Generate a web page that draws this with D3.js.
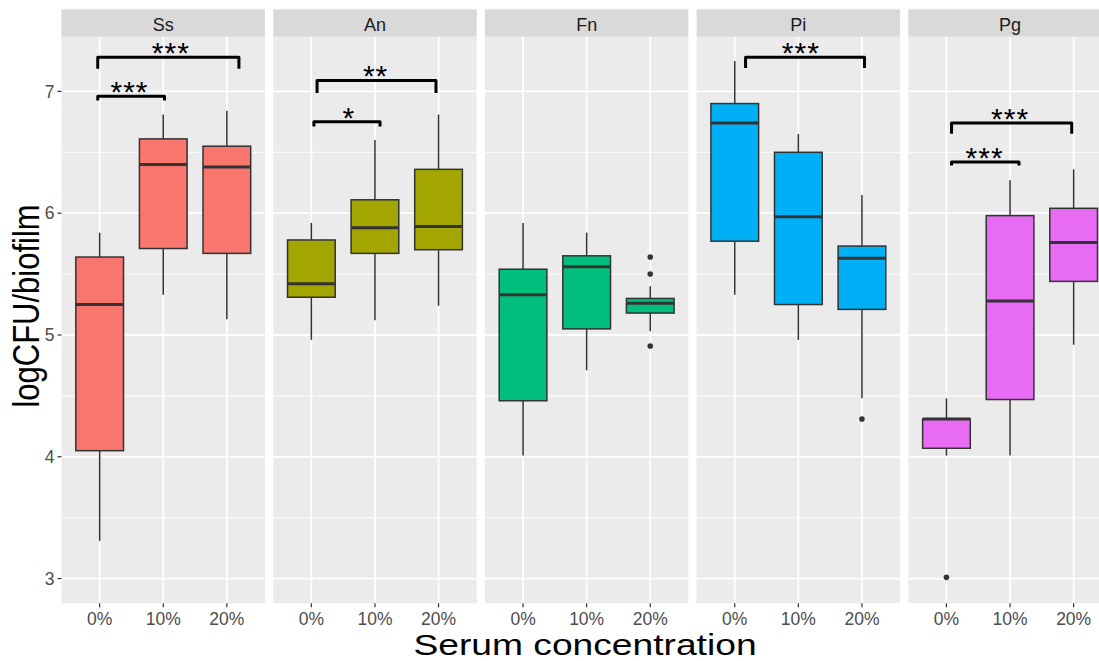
<!DOCTYPE html>
<html>
<head>
<meta charset="utf-8">
<script src="https://cdn.jsdelivr.net/npm/d3@7"></script>
<style>
  html, body { margin: 0; padding: 0; background: #fff; }
  svg { display: block; font-family: "Liberation Sans", Arial, sans-serif; }
</style>
</head>
<body>
<svg id="chart" width="1099" height="661"></svg>
<script>
// Bacterial species (facets) and serum concentrations (x categories)
const species = ["Ss", "An", "Fn", "Pi", "Pg"];
const concentrations = ["0%", "10%", "20%"];
const speciesColors = ["#F8766D", "#A3A500", "#00BF7D", "#00B0F6", "#E76BF3"];

// Box-plot statistics, one row per species, one entry per concentration
const lowerWhisker = [
  [3.31, 5.33, 5.13],
  [4.96, 5.12, 5.24],
  [4.01, 4.71, 5.03],
  [5.33, 4.96, 4.48],
  [4.01, 4.01, 4.92]
];
const q1 = [
  [4.05, 5.71, 5.67],
  [5.31, 5.67, 5.70],
  [4.46, 5.05, 5.18],
  [5.77, 5.25, 5.21],
  [4.07, 4.47, 5.44]
];
const median = [
  [5.25, 6.40, 6.38],
  [5.42, 5.88, 5.89],
  [5.33, 5.56, 5.26],
  [6.74, 5.97, 5.63],
  [4.31, 5.28, 5.76]
];
const q3 = [
  [5.64, 6.61, 6.55],
  [5.78, 6.11, 6.36],
  [5.54, 5.65, 5.30],
  [6.90, 6.50, 5.73],
  [4.31, 5.98, 6.04]
];
const upperWhisker = [
  [5.84, 6.81, 6.84],
  [5.92, 6.60, 6.81],
  [5.92, 5.84, 5.40],
  [7.25, 6.65, 6.15],
  [4.48, 6.27, 6.36]
];
const outliers = [
  [[], [], []],
  [[], [], []],
  [[], [], [5.64, 5.50, 4.91]],
  [[], [], [4.31]],
  [[3.01], [], []]
];

// Significance brackets (positions in category index units, 0 = "0%")
const bracketSpecies = ["Ss", "Ss", "An", "An", "Pi", "Pg", "Pg"];
const bracketFrom    = [-0.03, -0.03, 0.04, 0.09, 0.17, 0.08, 0.08];
const bracketTo      = [1.02, 2.19, 1.08, 1.96, 2.04, 1.14, 1.97];
const bracketLevel   = [6.96, 7.28, 6.75, 7.09, 7.28, 6.42, 6.74];
const bracketTipEnd  = [6.925, 7.185, 6.712, 6.987, 7.192, 6.392, 6.652];
const bracketLabel   = ["***", "***", "*", "**", "***", "***", "***"];
const bracketLabelAt = [0.47, 1.12, 0.59, 1.01, 1.04, 0.60, 1.00];

const yTicks = [3, 4, 5, 6, 7];
const yMinor = [3.5, 4.5, 5.5, 6.5];

// Layout
const svg = d3.select("#chart");
const panelLeft0 = 61.5, panelStep = 211.7, panelW = 203.5;
const stripTop = 9.3, panelTop = 36.7, panelBottom = 603.3;

const y = d3.scaleLinear().domain([2.797, 7.449]).range([panelBottom, panelTop]);
const x = d3.scalePoint().domain(concentrations).range([0, panelW]).padding(0.6);
const xIdx = d3.scaleLinear().domain([0, 1]).range([x("0%"), x("10%")]);
const boxW = x.step() * 0.75;

svg.append("rect").attr("width", 1099).attr("height", 661).attr("fill", "#ffffff");

species.forEach((sp, i) => {
  const g = svg.append("g").attr("transform", `translate(${panelLeft0 + i * panelStep},0)`);

  // panel background and grid
  g.append("rect").attr("x", 0).attr("y", panelTop)
    .attr("width", panelW).attr("height", panelBottom - panelTop).attr("fill", "#EBEBEB");
  g.selectAll(".minor").data(yMinor).join("line")
    .attr("x1", 0).attr("x2", panelW).attr("y1", d => y(d)).attr("y2", d => y(d))
    .attr("stroke", "#ffffff").attr("stroke-width", 0.9);
  g.selectAll(".major").data(yTicks).join("line")
    .attr("x1", 0).attr("x2", panelW).attr("y1", d => y(d)).attr("y2", d => y(d))
    .attr("stroke", "#ffffff").attr("stroke-width", 1.8);
  g.selectAll(".vmajor").data(concentrations).join("line")
    .attr("x1", d => x(d)).attr("x2", d => x(d)).attr("y1", panelTop).attr("y2", panelBottom)
    .attr("stroke", "#ffffff").attr("stroke-width", 1.8);

  // strip
  g.append("rect").attr("x", 0).attr("y", stripTop)
    .attr("width", panelW).attr("height", panelTop - stripTop).attr("fill", "#D9D9D9");
  g.append("text").attr("x", panelW / 2).attr("y", 30.5)
    .attr("text-anchor", "middle").attr("font-size", 18).attr("fill", "#1A1A1A").text(sp);

  // boxes
  concentrations.forEach((c, k) => {
    const cx = x(c);
    const col = speciesColors[i];
    g.append("line").attr("x1", cx).attr("x2", cx)
      .attr("y1", y(upperWhisker[i][k])).attr("y2", y(q3[i][k]))
      .attr("stroke", "#333333").attr("stroke-width", 1.5);
    g.append("line").attr("x1", cx).attr("x2", cx)
      .attr("y1", y(q1[i][k])).attr("y2", y(lowerWhisker[i][k]))
      .attr("stroke", "#333333").attr("stroke-width", 1.5);
    g.append("rect").attr("x", cx - boxW / 2).attr("y", y(q3[i][k]))
      .attr("width", boxW).attr("height", y(q1[i][k]) - y(q3[i][k]))
      .attr("fill", col).attr("stroke", "#333333").attr("stroke-width", 1.5);
    g.append("line").attr("x1", cx - boxW / 2).attr("x2", cx + boxW / 2)
      .attr("y1", y(median[i][k])).attr("y2", y(median[i][k]))
      .attr("stroke", "#333333").attr("stroke-width", 3);
    g.selectAll(null).data(outliers[i][k]).join("circle")
      .attr("cx", cx).attr("cy", d => y(d)).attr("r", 2.8).attr("fill", "#333333");
  });

  // x ticks and labels
  g.selectAll(".xt").data(concentrations).join("line")
    .attr("x1", d => x(d)).attr("x2", d => x(d)).attr("y1", panelBottom).attr("y2", panelBottom + 4)
    .attr("stroke", "#333333").attr("stroke-width", 1.2);
  g.selectAll(".xl").data(concentrations).join("text")
    .attr("x", d => x(d)).attr("y", 625).attr("text-anchor", "middle")
    .attr("font-size", 17.5).attr("fill", "#4D4D4D").text(d => d);

  // significance brackets
  bracketSpecies.forEach((bs, b) => {
    if (bs !== sp) return;
    const x1 = xIdx(bracketFrom[b]), x2 = xIdx(bracketTo[b]);
    const yl = y(bracketLevel[b]), yt = y(bracketTipEnd[b]);
    g.append("path")
      .attr("d", `M${x1},${yt} L${x1},${yl} L${x2},${yl} L${x2},${yt}`)
      .attr("fill", "none").attr("stroke", "#000000").attr("stroke-width", 3)
      .attr("stroke-linejoin", "round");
    g.append("text").attr("x", xIdx(bracketLabelAt[b])).attr("y", yl + 6)
      .attr("text-anchor", "middle").attr("font-size", 30).attr("fill", "#000000")
      .attr("letter-spacing", 1).text(bracketLabel[b]);
  });
});

// y axis on the first panel
const yAxisG = svg.append("g");
yAxisG.selectAll("line").data(yTicks).join("line")
  .attr("x1", panelLeft0 - 4).attr("x2", panelLeft0).attr("y1", d => y(d)).attr("y2", d => y(d))
  .attr("stroke", "#333333").attr("stroke-width", 1.2);
yAxisG.selectAll("text").data(yTicks).join("text")
  .attr("x", panelLeft0 - 7).attr("y", d => y(d) + 6.3).attr("text-anchor", "end")
  .attr("font-size", 17.5).attr("fill", "#4D4D4D").text(d => d);

// axis titles
svg.append("text")
  .attr("transform", "translate(585,655) scale(1.24,1)")
  .attr("text-anchor", "middle").attr("font-size", 30).attr("fill", "#000000")
  .text("Serum concentration");
svg.append("text")
  .attr("transform", "translate(39,306) scale(1.2,1) rotate(-90)")
  .attr("text-anchor", "middle").attr("font-size", 31).attr("fill", "#000000")
  .text("logCFU/biofilm");
</script>
</body>
</html>
